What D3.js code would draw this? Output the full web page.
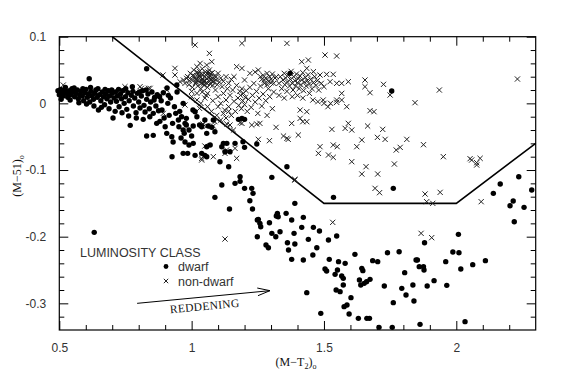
<!DOCTYPE html>
<html>
<head>
<meta charset="utf-8">
<script src="https://cdn.jsdelivr.net/npm/d3@7"></script>
<style>
	body { margin: 0; background: #fff; }
	svg { display: block; }
	.tick-label { font-family: "Liberation Sans", Arial, sans-serif; font-size: 12px; fill: #333; }
	.serif { font-family: "Liberation Serif", "Times New Roman", serif; fill: #111; }
</style>
</head>
<body>
<div id="chart"></div>
<script>

// dwarf stars (filled dots), [ (M-T2)o , (M-51)o ]
var dwarf_x = [
	0.495, 0.50, 0.505, 0.51, 0.515, 0.52, 0.527, 0.532, 0.538, 0.543, 0.548, 0.553, 0.558, 0.563, 0.568, 0.572,
	0.577, 0.582, 0.587, 0.592, 0.596, 0.601, 0.606, 0.61, 0.615, 0.62, 0.624, 0.629, 0.634, 0.638, 0.643, 0.648,
	0.652, 0.657, 0.662, 0.667, 0.671, 0.676, 0.68, 0.685, 0.69, 0.694, 0.70, 0.703, 0.707, 0.712, 0.716, 0.72,
	0.726, 0.731, 0.735, 0.74, 0.745, 0.75, 0.755, 0.759, 0.764, 0.768, 0.772, 0.776, 0.78, 0.785, 0.79, 0.795,
	0.80, 0.805, 0.81, 0.815, 0.82, 0.824, 0.83, 0.83, 0.835, 0.84, 0.845, 0.85, 0.855, 0.855, 0.86, 0.865,
	0.87, 0.875, 0.88, 0.885, 0.888, 0.893, 0.90, 0.906, 0.907, 0.91, 0.915, 0.92, 0.925, 0.926, 0.93, 0.935,
	0.944, 0.945, 0.95, 0.955, 0.96, 0.968, 0.968, 0.968, 0.975, 0.975, 0.98, 0.98, 0.985, 0.99, 1.0, 1.005,
	1.006, 1.006, 1.013, 1.013, 1.02, 1.03, 1.038, 1.038, 1.05, 1.05, 1.057, 1.057, 1.057, 1.063, 1.07, 1.076,
	1.082, 1.088, 1.107, 1.114, 1.12, 1.126, 1.133, 1.14, 1.145, 1.164, 1.177, 1.19, 1.2, 1.194, 1.2, 1.246,
	1.183, 1.183, 1.164, 1.114, 1.2, 1.227, 1.232, 1.088, 1.22, 1.143, 1.23, 1.303, 1.36, 1.372, 1.756, 0.83,
	0.613, 0.632,
	0.507, 0.523, 0.541, 0.556, 0.574, 0.589, 0.603, 0.618, 0.631, 0.646, 0.659, 0.673, 0.688, 0.698, 0.711, 0.724,
	0.737, 0.751, 0.762, 0.778, 0.791, 0.803, 0.817, 0.828, 0.842, 0.858, 0.868, 0.879, 0.896, 0.912, 0.928, 0.94,
	0.952, 0.962, 0.972, 0.99,
	1.248, 1.258, 1.261, 1.294, 1.32, 1.324, 1.357, 1.334, 1.303, 1.248, 1.281, 1.29, 1.318, 1.362, 1.366, 1.378,
	1.387, 1.39, 1.378, 1.39, 1.422, 1.416, 1.46, 1.483, 1.422, 1.441, 1.458, 1.473, 1.517, 1.548, 1.52, 1.504,
	1.51, 1.542, 1.551, 1.555, 1.567, 1.573, 1.573, 1.546, 1.561, 1.58, 1.617, 1.643, 1.647, 1.674, 1.684, 1.703,
	1.74, 1.784, 1.728, 1.762, 1.634, 1.639, 1.652, 1.661, 1.576, 1.587, 1.595, 1.602, 1.63, 1.662, 1.672, 1.708,
	1.758, 1.488, 1.435, 1.794, 1.81, 1.84, 1.805, 1.836, 1.848, 1.853, 1.86, 1.876, 1.878, 1.88, 1.89, 1.916,
	1.964, 1.96, 1.987, 2.01, 2.008, 2.017, 2.062, 2.11, 1.863, 2.033, 2.14, 2.166, 2.203, 2.215, 2.219, 2.236,
	2.256, 2.285, 1.536, 1.762, 1.252, 1.327
]

var dwarf_y = [
	0.019, 0.013, 0.021, 0.016, 0.011, 0.02, 0.015, 0.009, 0.019, 0.013, 0.022, 0.017, 0.01, 0.015, 0.02, 0.007,
	0.013, 0.018, 0.011, 0.004, 0.016, 0.021, 0.009, 0.014, 0.002, 0.018, 0.011, 0.006, 0.015, 0.02, 0.009, -0.01,
	0.013, 0.004, 0.017, 0.01, -0.002, 0.014, 0.007, 0.019, 0.011, 0.002, 0.015, -0.022, 0.008, 0.017, 0.003, 0.011,
	-0.005, 0.014, 0.007, 0.019, 0.0, 0.01, -0.009, 0.016, 0.004, -0.033, 0.012, 0.025, -0.004, 0.008, -0.014, 0.015,
	0.002, -0.007, 0.011, 0.019, -0.003, -0.013, 0.006, -0.049, 0.014, -0.008, 0.002, 0.017, -0.015, -0.048, 0.009, -0.004,
	0.013, -0.011, -0.027, 0.004, -0.01, 0.016, -0.035, -0.045, 0.023, 0.0, -0.018, 0.008, -0.05, -0.08, -0.058, -0.005,
	0.0275, 0.017, -0.025, -0.012, -0.052, -0.04, 0.0, -0.075, -0.058, -0.03, -0.0225, -0.0325, -0.075, -0.0625, -0.049, -0.01,
	-0.034, -0.06, -0.0125, -0.078, -0.02, -0.0325, -0.035, -0.075, -0.025, -0.078, -0.045, -0.065, -0.08, -0.034, -0.0625, -0.036,
	-0.025, -0.0425, -0.0875, -0.065, -0.06, -0.0725, -0.06, -0.095, -0.0725, -0.06, -0.024, -0.0225, -0.024, -0.0575, -0.066, -0.061,
	-0.11, -0.117, -0.12, -0.1225, -0.1275, -0.1275, -0.135, -0.141, -0.146, -0.1585, -0.1585, -0.111, -0.095, 0.045, 0.0185, 0.052,
	0.037, -0.1935,
	0.006, 0.024, 0.005, 0.023, 0.001, 0.022, -0.001, 0.024, -0.004, 0.022, -0.006, 0.021, -0.008, 0.02, -0.012, 0.021,
	-0.014, 0.022, -0.019, 0.018, -0.022, 0.017, -0.024, 0.02, -0.02, 0.005, -0.03, 0.01, -0.022, 0.012, -0.03, -0.015,
	-0.035, -0.02, -0.045, -0.04,
	-0.175, -0.18, -0.185, -0.179, -0.169, -0.165, -0.165, -0.1925, -0.195, -0.2, -0.2125, -0.2165, -0.2, -0.209, -0.22, -0.175,
	-0.195, -0.211, -0.234, -0.15, -0.171, -0.186, -0.186, -0.1915, -0.235, -0.204, -0.2275, -0.2165, -0.205, -0.199, -0.234, -0.2485,
	-0.2515, -0.2565, -0.25, -0.2375, -0.259, -0.2625, -0.2725, -0.28, -0.2825, -0.24, -0.2265, -0.2475, -0.251, -0.264, -0.236, -0.2375,
	-0.224, -0.2225, -0.274, -0.299, -0.265, -0.2725, -0.27, -0.2675, -0.305, -0.3025, -0.316, -0.2915, -0.3225, -0.3225, -0.3225, -0.336,
	-0.336, -0.315, -0.284, -0.2775, -0.2875, -0.2965, -0.254, -0.2725, -0.235, -0.235, -0.245, -0.245, -0.25, -0.209, -0.274, -0.266,
	-0.273, -0.2375, -0.223, -0.224, -0.1965, -0.2485, -0.242, -0.236, -0.3315, -0.3275, -0.135, -0.121, -0.1535, -0.1465, -0.1775, -0.11,
	-0.156, -0.13, -0.141, -0.1275, -0.174, -0.17
]

// non-dwarf stars (crosses)
var giant_x = [
	0.515, 0.748, 0.805, 0.81, 0.837, 0.843, 0.873, 0.893, 0.906, 0.892, 0.937, 0.937, 0.969, 0.981, 0.956, 0.975,
	1.03, 1.088, 1.158, 1.164, 1.082, 1.17, 1.038, 1.132, 1.038, 1.126, 1.139, 1.05, 1.043, 1.057, 1.082, 1.133,
	1.145, 1.183, 1.19, 1.227, 1.246, 1.258, 1.319, 1.252, 1.294, 1.347, 1.36, 1.365, 1.378, 1.435, 1.403, 1.39,
	1.126,
	1.013, 1.19, 1.36, 1.067, 1.19, 1.17, 1.252, 1.24, 1.032, 1.057, 1.076,
	1.504, 1.548, 1.416, 1.441, 1.435, 1.46, 1.485, 1.51, 1.535, 1.523, 1.548, 1.567, 1.592, 1.655, 1.655, 1.725,
	1.674, 1.75, 1.567, 1.586, 1.548, 1.567, 1.5, 1.525, 1.548, 1.458, 1.477, 1.497, 1.515, 1.844, 1.936, 2.231,
	1.674, 1.689, 1.435, 1.41, 1.41, 1.42, 1.53, 1.592, 1.58, 1.605, 1.665, 1.722, 1.643, 1.702, 1.731, 1.813,
	1.876, 1.788, 1.773, 1.624, 1.535, 1.55, 1.485, 1.479, 1.517, 1.535, 1.951, 2.052, 2.058, 2.077, 2.09, 2.077,
	1.766, 1.659, 1.643, 1.703, 1.605, 1.39, 1.693, 1.71, 1.882, 1.939, 1.888, 1.911, 1.533, 1.867, 1.907, 2.094,
	0.975, 0.985, 0.99, 0.995, 1.0, 1.003, 1.008, 1.01, 1.015, 1.018, 1.02, 1.023, 1.025, 1.028, 1.03, 1.033,
	1.035, 1.037, 1.04, 1.042, 1.045, 1.047, 1.05, 1.052, 1.055, 1.057, 1.06, 1.062, 1.065, 1.067, 1.07, 1.072,
	1.075, 1.078, 1.08, 1.083, 1.086, 1.09, 1.093, 1.097, 1.1, 1.105, 1.11, 1.115, 1.12, 1.04, 1.055, 1.02,
	1.0, 1.13, 1.14, 1.15,
	0.992, 1.004, 1.012, 1.021, 1.027, 1.034, 1.041, 1.046, 1.053, 1.059, 1.064, 1.071, 1.079, 1.085, 1.092, 1.036,
	1.048, 1.016, 1.062, 1.074, 1.028, 1.044,
	1.1, 1.11, 1.12, 1.125, 1.13, 1.135, 1.14, 1.145, 1.15, 1.155, 1.16, 1.165, 1.17, 1.175, 1.178, 1.182,
	1.185, 1.188, 1.19, 1.193, 1.196, 1.2, 1.203, 1.206, 1.21, 1.215, 1.22, 1.225, 1.23, 1.235, 1.24, 1.245,
	1.25, 1.255, 1.26, 1.265, 1.27, 1.275, 1.28, 1.285, 1.29, 1.295, 1.3, 1.305, 1.31, 1.315, 1.16, 1.2,
	1.22, 1.26,
	1.265, 1.27, 1.275, 1.28, 1.285, 1.29, 1.295, 1.3, 1.305, 1.31, 1.285, 1.32,
	1.33, 1.335, 1.34, 1.345, 1.35, 1.352, 1.355, 1.36, 1.362, 1.365, 1.37, 1.373, 1.376, 1.38, 1.383, 1.386,
	1.39, 1.393, 1.396, 1.4, 1.403, 1.406, 1.41, 1.413, 1.416, 1.42, 1.423, 1.426, 1.43, 1.433, 1.437, 1.44,
	1.445, 1.45, 1.455, 1.46, 1.465, 1.47, 1.475, 1.48, 1.49, 1.5, 1.38, 1.4, 1.42, 1.445, 1.35, 1.33,
	1.0, 1.02, 1.035, 1.05, 1.06, 1.075, 1.08, 1.095, 1.1, 1.11, 1.12, 1.13, 1.14, 1.06
]

var giant_y = [
	0.0275, 0.025, 0.025, 0.0225, 0.0225, 0.0225, 0.01, -0.015, 0.02, 0.0425, 0.0525, 0.0425, 0.035, 0.0375, 0.0325, -0.0025,
	-0.0075, -0.0275, -0.04, -0.0675, -0.08, -0.0825, -0.0825, -0.07, -0.085, -0.075, -0.0725, -0.064, -0.031, -0.034, -0.034, -0.031,
	-0.0325, -0.029, -0.03, -0.0325, -0.031, -0.03, -0.036, -0.054, -0.056, -0.049, -0.0525, -0.054, -0.03, -0.0275, -0.0475, -0.115,
	-0.2035,
	0.0875, 0.09, 0.09, 0.075, 0.0525, 0.055, 0.05, 0.047, 0.06, 0.0575, 0.0625,
	0.0725, 0.071, 0.0625, 0.065, 0.0525, 0.0475, 0.0425, 0.0435, 0.0435, 0.0325, 0.03, 0.03, 0.0325, 0.035, 0.025, 0.0285,
	0.016, 0.0125, 0.015, -0.005, 0.005, 0.005, 0.0, 0.0, 0.0015, 0.005, 0.0025, 0.005, -0.005, 0.001, 0.02, 0.0365,
	-0.011, -0.0125, -0.0125, -0.01, -0.0225, -0.0275, -0.039, -0.03, -0.0375, -0.04, -0.034, -0.039, -0.055, -0.051, -0.054, -0.054,
	-0.062, -0.066, -0.07, -0.065, -0.0625, -0.065, -0.065, -0.075, -0.0775, -0.081, -0.08, -0.083, -0.085, -0.089, -0.0825, -0.0925,
	-0.091, -0.095, -0.106, -0.106, -0.0875, -0.114, -0.1275, -0.134, -0.136, -0.1335, -0.1475, -0.15, -0.1785, -0.195, -0.2015, -0.1475,
	0.03, 0.04, 0.028, 0.045, 0.035, 0.024, 0.05, 0.041, 0.03, 0.036, 0.055, 0.026, 0.044, 0.033, 0.048, 0.039,
	0.022, 0.03, 0.052, 0.043, 0.035, 0.027, 0.04, 0.047, 0.031, 0.037, 0.024, 0.044, 0.034, 0.05, 0.029, 0.04,
	0.036, 0.046, 0.027, 0.033, 0.041, 0.02, 0.035, 0.028, 0.045, 0.032, 0.038, 0.025, 0.033, 0.017, 0.012, 0.015,
	0.018, 0.04, 0.03, 0.036,
	0.034, 0.042, 0.037, 0.047, 0.039, 0.044, 0.037, 0.032, 0.043, 0.03, 0.039, 0.045, 0.032, 0.037, 0.04, 0.034,
	0.034, 0.032, 0.047, 0.035, 0.041, 0.029,
	0.01, 0.0, 0.015, -0.01, 0.005, 0.022, -0.005, 0.012, -0.018, 0.02, 0.003, -0.012, 0.027, 0.008, -0.003, 0.018,
	0.012, -0.008, 0.022, 0.004, 0.015, -0.002, 0.009, 0.019, -0.012, 0.006, 0.024, -0.006, 0.012, 0.03, 0.002, 0.018,
	-0.015, 0.008, 0.026, -0.004, 0.014, 0.035, 0.004, -0.018, 0.022, 0.01, 0.031, -0.008, 0.017, 0.038, 0.04, 0.035,
	0.045, 0.04,
	0.036, 0.042, 0.03, 0.038, 0.045, 0.033, 0.04, 0.036, 0.044, 0.03, 0.028, 0.04,
	0.03, 0.04, 0.022, 0.035, 0.045, 0.028, 0.038, 0.018, 0.032, 0.042, 0.026, 0.036, 0.048, 0.03, 0.02, 0.04,
	0.034, 0.026, 0.044, 0.031, 0.037, 0.022, 0.041, 0.028, 0.035, 0.046, 0.019, 0.032, 0.039, 0.026, 0.034, 0.043,
	0.029, 0.036, 0.022, 0.031, 0.04, 0.027, 0.034, 0.02, 0.03, 0.025, 0.01, 0.012, 0.008, 0.015, 0.008, 0.012,
	0.01, 0.005, 0.0, 0.008, -0.005, -0.012, 0.004, -0.018, -0.005, -0.025, -0.015, -0.022, -0.012, 0.015
]

// dividing line between dwarfs and non-dwarfs
var boundary_x = [0.7, 1.5, 2.0, 2.3]
var boundary_y = [0.1, -0.15, -0.15, -0.06]

// reddening vector
var redden_x = [0.794, 1.296]
var redden_y = [-0.300, -0.281]

var x_ticks = [0.5, 1, 1.5, 2]
var y_ticks = [0.1, 0, -0.1, -0.2, -0.3]

var Chart = ((document, d3) => {

	var width = 566,
		height = 385,
		left = 59.3,
		right = 535.7,
		top = 36.7,
		bottom = 330

	var svg = d3.select('#chart')
		.append('svg')
		.attr('width', width)
		.attr('height', height)

	var x = d3.scaleLinear()
		.domain([0.5, 2.3])
		.range([left, right])

	var y = d3.scaleLinear()
		.domain([-0.34, 0.1])
		.range([bottom, top])

	var is_major = (v, step) => Math.abs(v / step - Math.round(v / step)) < 1e-6

	var x_minor = d3.range(0.6, 2.25, 0.1).filter(v => !is_major(v, 0.5))
	var y_minor = d3.range(-0.32, 0.09, 0.02).filter(v => !is_major(v, 0.1))

	var fmt = d => String(+d.toFixed(2))

	// frame
	svg.append('rect')
		.attr('x', left)
		.attr('y', top)
		.attr('width', right - left)
		.attr('height', bottom - top)
		.attr('fill', 'none')
		.attr('stroke', '#000')
		.attr('stroke-width', 1.2)

	var tick_axis = (make, scale, ticks, size, labels) => make(scale)
		.tickValues(ticks)
		.tickSizeInner(-size)
		.tickSizeOuter(0)
		.tickPadding(labels ? 13 : 0)
		.tickFormat(labels ? fmt : '')

	var axes = [
		[d3.axisBottom, x, 'translate(0,' + bottom + ')', x_ticks, x_minor, true],
		[d3.axisTop, x, 'translate(0,' + top + ')', x_ticks, x_minor, false],
		[d3.axisLeft, y, 'translate(' + left + ',0)', y_ticks, y_minor, true],
		[d3.axisRight, y, 'translate(' + right + ',0)', y_ticks, y_minor, false]
	]

	axes.forEach(a => {

		var g = svg.append('g')
			.attr('transform', a[2])
			.call(tick_axis(a[0], a[1], a[3], 9, a[5]))

		svg.append('g')
			.attr('transform', a[2])
			.call(tick_axis(a[0], a[1], a[4], 5, false))
			.selectAll('text').remove()

		g.selectAll('text')
			.attr('class', 'tick-label')
			.attr('fill', null)

		g.attr('font-family', null)
			.attr('font-size', null)

	})

	svg.selectAll('.domain').remove()

	svg.selectAll('.tick line')
		.attr('stroke', '#000')
		.attr('stroke-width', 1)

	// boundary
	svg.append('path')
		.datum(d3.zip(boundary_x, boundary_y))
		.attr('fill', 'none')
		.attr('stroke', '#000')
		.attr('stroke-width', 1.6)
		.attr('d', d3.line().x(d => x(d[0])).y(d => y(d[1])))

	var cross = (sel, s) => sel
		.attr('d', d => 'M' + (d[0] - s) + ',' + (d[1] - s) + 'L' + (d[0] + s) + ',' + (d[1] + s) +
			'M' + (d[0] - s) + ',' + (d[1] + s) + 'L' + (d[0] + s) + ',' + (d[1] - s))
		.attr('fill', 'none')
		.attr('stroke', '#222')
		.attr('stroke-width', 1)

	// non-dwarfs
	svg.append('g')
		.selectAll('path')
		.data(d3.zip(giant_x, giant_y).map(d => [x(d[0]), y(d[1])]))
		.join('path')
			.call(cross, 2.6)

	// dwarfs
	svg.append('g')
		.selectAll('circle')
		.data(d3.zip(dwarf_x, dwarf_y))
		.join('circle')
			.attr('cx', d => x(d[0]))
			.attr('cy', d => y(d[1]))
			.attr('r', 2.7)
			.attr('fill', '#000')

	// legend
	var legend = svg.append('g')

	legend.append('text')
		.attr('class', 'tick-label')
		.attr('x', 80)
		.attr('y', 257)
		.style('font-size', '12.5px')
		.text('LUMINOSITY CLASS')

	legend.append('circle')
		.attr('cx', 166)
		.attr('cy', 266.5)
		.attr('r', 2.4)
		.attr('fill', '#000')

	legend.append('text')
		.attr('class', 'tick-label')
		.attr('x', 178)
		.attr('y', 271)
		.style('font-size', '12.5px')
		.text('dwarf')

	legend.append('path')
		.datum([166, 281])
		.call(cross, 2.2)

	legend.append('text')
		.attr('class', 'tick-label')
		.attr('x', 178)
		.attr('y', 285.5)
		.style('font-size', '12.5px')
		.text('non-dwarf')

	// reddening arrow
	var p0 = [x(redden_x[0]), y(redden_y[0])],
		p1 = [x(redden_x[1]), y(redden_y[1])],
		ang = Math.atan2(p1[1] - p0[1], p1[0] - p0[0]),
		head = 13,
		spread = 0.3

	svg.append('path')
		.attr('d', 'M' + p0 + 'L' + p1 +
			'M' + [p1[0] - head * Math.cos(ang - spread), p1[1] - head * Math.sin(ang - spread)] + 'L' + p1 +
			'L' + [p1[0] - head * Math.cos(ang + spread), p1[1] - head * Math.sin(ang + spread)])
		.attr('fill', 'none')
		.attr('stroke', '#000')
		.attr('stroke-width', 1)

	svg.append('text')
		.attr('class', 'serif')
		.attr('transform', 'translate(205,310) rotate(' + (ang * 180 / Math.PI) + ')')
		.attr('text-anchor', 'middle')
		.style('font-size', '11.5px')
		.style('letter-spacing', '0.3px')
		.text('REDDENING')

	// axis titles
	var xt = svg.append('text')
		.attr('class', 'serif')
		.attr('x', 296)
		.attr('y', 366)
		.attr('text-anchor', 'middle')
		.style('font-size', '12px')

	xt.append('tspan').text('(M\u2212T')
	xt.append('tspan').attr('dy', 3).style('font-size', '8px').text('2')
	xt.append('tspan').attr('dy', -3).text(')')
	xt.append('tspan').attr('dy', 3).style('font-size', '8px').text('o')

	var yt = svg.append('text')
		.attr('class', 'serif')
		.attr('transform', 'translate(21,176) rotate(-90)')
		.attr('text-anchor', 'middle')
		.style('font-size', '12px')

	yt.append('tspan').text('(M\u221251)')
	yt.append('tspan').attr('dy', 3).style('font-size', '8px').text('o')

	return { svg: svg }

})(document, d3)

</script>
</body>
</html>
